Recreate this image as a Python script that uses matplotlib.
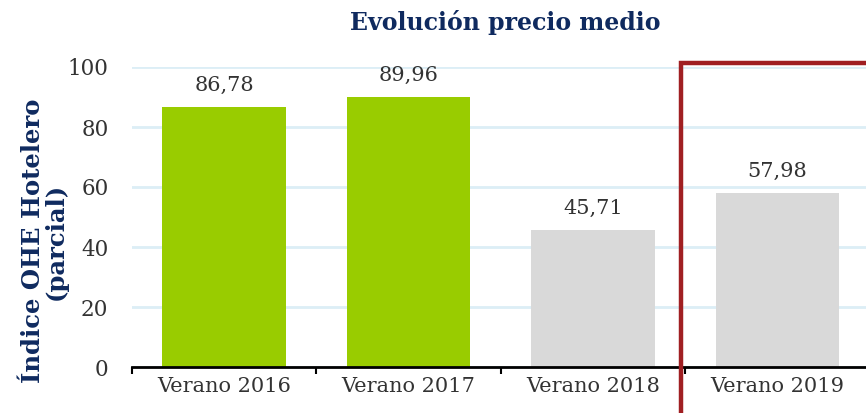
import matplotlib.pyplot as plt
from matplotlib.patches import Rectangle

CATEGORIES = ["Verano 2016", "Verano 2017", "Verano 2018", "Verano 2019"]
VALUES = [86.78, 89.96, 45.71, 57.98]
LABELS = ["86,78", "89,96", "45,71", "57,98"]
COLORS = ["#99CC00", "#99CC00", "#D9D9D9", "#D9D9D9"]
Y_TICKS = [0, 20, 40, 60, 80, 100]

NAVY = "#0F2A5F"
TEXT = "#333333"

plt.rcParams["font.family"] = ["DejaVu Serif"]


def main():
    fig = plt.figure(figsize=(8.66, 4.13), dpi=100)
    ax = fig.add_axes([132 / 866, 46 / 413, 1 - 132 / 866, 300 / 413])

    x = range(len(CATEGORIES))
    bars = ax.bar(x, VALUES, width=0.67, color=COLORS, zorder=2)
    for bar, lab in zip(bars, LABELS):
        ax.text(bar.get_x() + bar.get_width() / 2, bar.get_height() + 4, lab,
                ha="center", va="bottom", fontsize=15, color=TEXT)

    ax.set_xlim(-0.5, 3.48)
    ax.set_ylim(0, 100)
    ax.set_yticks(Y_TICKS)
    ax.set_yticklabels([str(v) for v in Y_TICKS], fontsize=15.5, color=TEXT)
    ax.set_xticks(list(x))
    ax.set_xticklabels(CATEGORIES, fontsize=15, color=TEXT)
    ax.set_xticks([i + 0.5 for i in range(-1, 3)], minor=True)
    ax.tick_params(axis="x", which="major", length=0, pad=7)
    ax.tick_params(axis="x", which="minor", length=5, width=1.5, direction="out")
    ax.tick_params(axis="y", length=0, pad=17)

    ax.grid(axis="y", color="#DCEEF6", linewidth=2, zorder=0)
    for side in ["top", "right", "left"]:
        ax.spines[side].set_visible(False)
    ax.spines["bottom"].set_linewidth(2)
    ax.spines["bottom"].set_zorder(3)

    ax.set_ylabel("Índice OHE Hotelero\n(parcial)", fontsize=17.5,
                  fontweight="bold", color=NAVY, linespacing=0.9)
    ax.yaxis.set_label_coords(-0.088, 0.42)

    fig.text(0.584, 0.945, "Evolución precio medio", ha="center", va="center",
             fontsize=17, fontweight="bold", color=NAVY)

    # red highlight box around the last season
    box = Rectangle((681 / 866, -0.1), 0.3, (413 - 63) / 413 + 0.1,
                    transform=fig.transFigure, fill=False,
                    edgecolor="#A01F22", linewidth=3.2, zorder=5)
    fig.patches.append(box)

    fig.savefig("out.png", dpi=100)


if __name__ == "__main__":
    main()
